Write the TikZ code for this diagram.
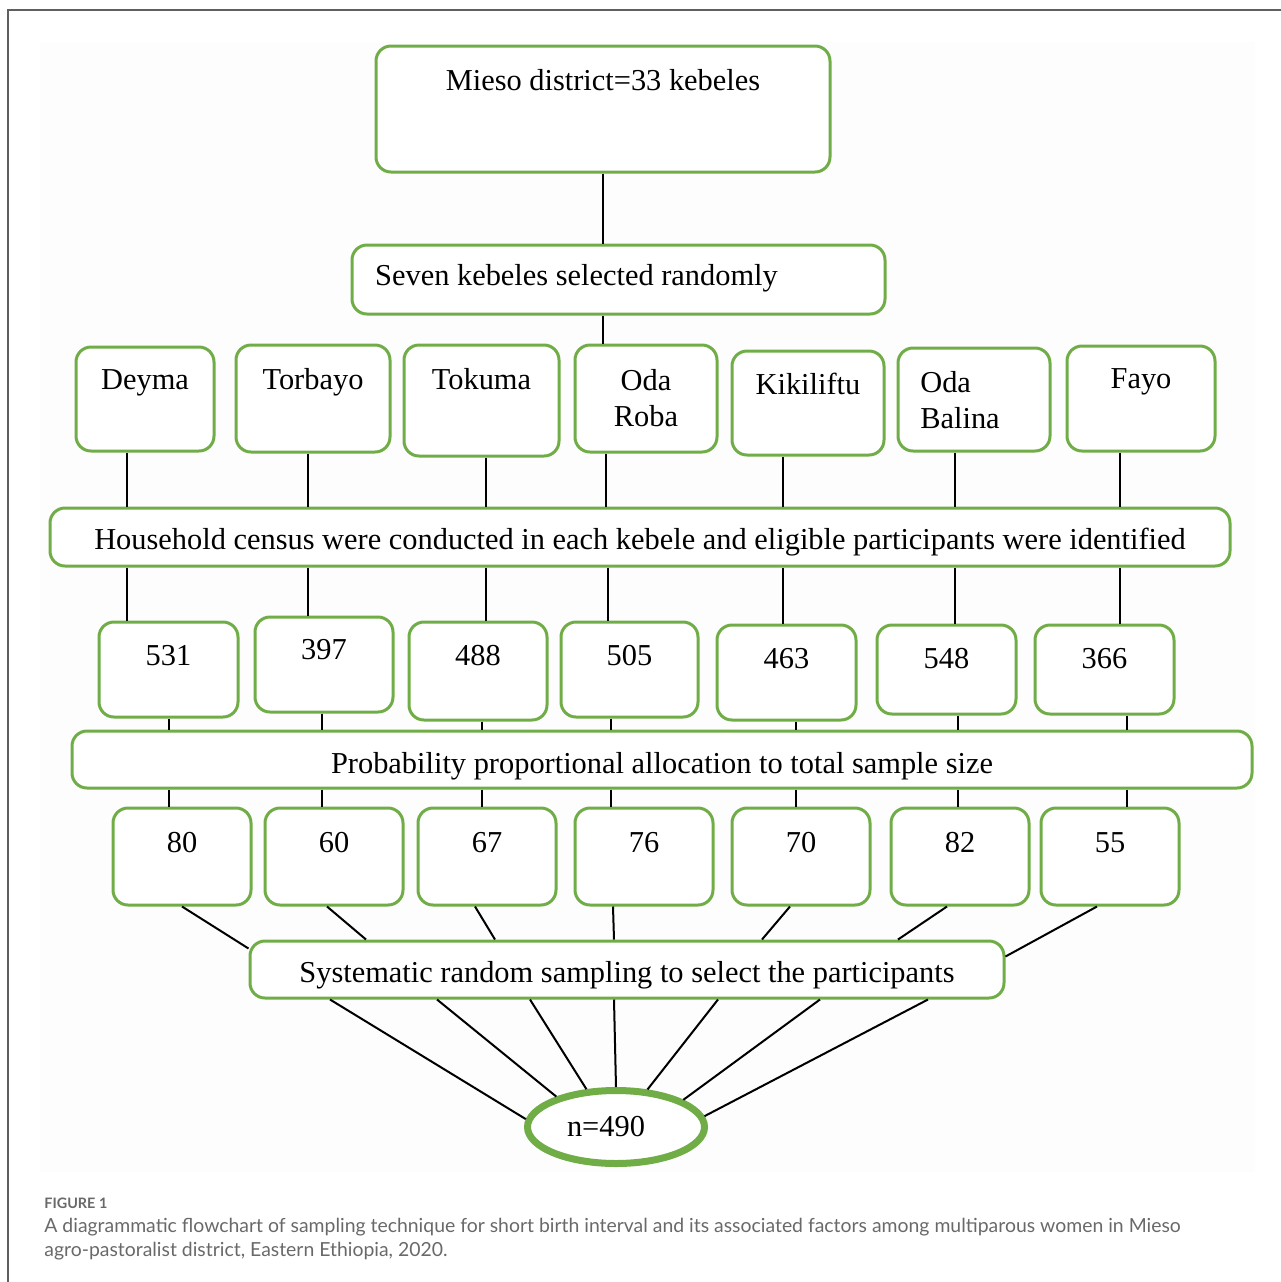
\documentclass[tikz,border=0pt]{standalone}
\usepackage{fontspec}
\setmainfont{Liberation Serif}
\newfontfamily\capfont{Lato}
\usepackage{xcolor}
\usepackage{tikz}
\usetikzlibrary{calc,shapes.geometric}
\definecolor{boxgreen}{RGB}{112,173,71}
\definecolor{framegray}{RGB}{95,95,95}
\definecolor{capgray}{RGB}{105,105,105}

\begin{document}
\begin{tikzpicture}[x=0.5pt,y=-0.5pt,
  box/.style={draw=boxgreen,line width=1.5pt,rounded corners=7.5pt,fill=white,inner sep=0pt},
  kbox/.style={box,minimum height=52pt},
  nbox/.style={box,minimum width=69.5pt,minimum height=47.5pt},
  sbox/.style={box,minimum width=69pt,minimum height=48.5pt},
  link/.style={line width=1pt,black},
  font=\fontsize{15.2}{18}\selectfont]
\useasboundingbox (0,0) rectangle (1281,1282);
\fill[black!0.6] (40,42) rectangle (1255,1172);
\draw[framegray,line width=0.8pt] (8,1282) -- (8,10) -- (1281,10);

\node[box,minimum width=227pt,minimum height=63pt,label={[yshift=14.5pt]center:Mieso district=33 kebeles}] (mieso) at (603,109) {};
\node[box,minimum width=266.5pt,minimum height=34.5pt,label={[xshift=-21pt,yshift=0.5pt]center:Seven kebeles selected randomly}] (seven) at (618.5,279.5) {};

\node[kbox,minimum width=69pt,label={[yshift=8pt]center:Deyma}] (deyma) at (145,399) {};
\node[kbox,minimum width=77pt,minimum height=53.5pt,label={[yshift=8.25pt]center:Torbayo}] (torbayo) at (313,398.5) {};
\node[kbox,minimum width=77.5pt,minimum height=55.5pt,label={[yshift=10.5pt]center:Tokuma}] (tokuma) at (481.5,400.5) {};
\node[kbox,minimum width=71pt,minimum height=53.5pt,label={[align=center,yshift=0pt]center:Oda\\Roba}] (odaroba) at (646,398.5) {};
\node[kbox,minimum width=76pt,label={[yshift=9.5pt]center:Kikiliftu}] (kikiliftu) at (808,403) {};
\node[kbox,minimum width=76pt,minimum height=51.5pt,label={[align=left,xshift=-7pt,yshift=-0.5pt]center:Oda\\Balina}] (odabalina) at (974,399.5) {};
\node[kbox,minimum width=74pt,minimum height=52.5pt,label={[yshift=8.5pt]center:Fayo}] (fayo) at (1141,398.5) {};

\node[box,minimum width=590pt,minimum height=29pt,label={[yshift=-2.5pt]center:Household census were conducted in each kebele and eligible participants were identified}] (house) at (640,537) {};

\node[nbox,label={[yshift=7pt]center:531}] (n531) at (168.5,669.5) {};
\node[nbox,minimum width=69pt,label={[yshift=7.5pt]center:397}] (n397) at (324,664.5) {};
\node[nbox,minimum width=69pt,minimum height=49pt,label={[yshift=7.75pt]center:488}] (n488) at (478,671) {};
\node[nbox,minimum width=68.5pt,label={[yshift=7pt]center:505}] (n505) at (629.5,669.5) {};
\node[nbox,label={[yshift=7pt]center:463}] (n463) at (786.5,672.5) {};
\node[nbox,minimum height=44.5pt,label={[yshift=5.5pt]center:548}] (n548) at (946.5,669.5) {};
\node[nbox,minimum height=44.5pt,label={[yshift=5.5pt]center:366}] (n366) at (1104.5,669.5) {};

\node[box,minimum width=590pt,minimum height=28.5pt,label={[yshift=-3.5pt]center:Probability proportional allocation to total sample size}] (prob) at (662,759.5) {};

\node[sbox,label={[yshift=7pt]center:80}] (s80) at (182,856.5) {};
\node[sbox,label={[yshift=7pt]center:60}] (s60) at (334,856.5) {};
\node[sbox,label={[yshift=7pt]center:67}] (s67) at (487,856.5) {};
\node[sbox,label={[yshift=7pt]center:76}] (s76) at (644,856.5) {};
\node[sbox,label={[yshift=7pt]center:70}] (s70) at (801,856.5) {};
\node[sbox,label={[yshift=7pt]center:82}] (s82) at (960,856.5) {};
\node[sbox,label={[yshift=7pt]center:55}] (s55) at (1110,856.5) {};

\node[box,minimum width=377pt,minimum height=28.5pt,label={[yshift=-3pt]center:Systematic random sampling to select the participants}] (sys) at (627,969.5) {};

\node[ellipse,draw=boxgreen,line width=3.5pt,fill=white,inner sep=0pt,minimum width=88.5pt,minimum height=36.5pt,label={[xshift=-5pt]center:n=490}] (n) at (616,1127) {};

\draw[link] (mieso.south) -- (mieso.south |- seven.north);
\draw[link] (603,0 |- seven.south) -- (603,0 |- odaroba.north);
\foreach \k/\x in {deyma/127,torbayo/308,tokuma/486,odaroba/606,kikiliftu/783,odabalina/955,fayo/1120}
  \draw[link] (\x,0 |- \k.south) -- (\x,0 |- house.north);
\foreach \k/\x in {n531/127,n397/308,n488/486,n505/608,n463/783,n548/955,n366/1120}
  \draw[link] (\x,0 |- house.south) -- (\x,0 |- \k.north);
\foreach \k/\s/\x in {n531/s80/169,n397/s60/322,n488/s67/482,n505/s76/611,n463/s70/796,n548/s82/958,n366/s55/1127}{
  \draw[link] (\x,0 |- \k.south) -- (\x,0 |- prob.north);
  \draw[link] (\x,0 |- prob.south) -- (\x,0 |- \s.north);
}
\draw[link] (s80.south) -- ($(sys.north west)+(0,9)$);
\foreach \s/\x/\e in {s60/327/366,s67/475/495,s76/613/614,s70/790/762,s82/947/898}
  \draw[link] (\x,0 |- \s.south) -- (\e,0 |- sys.north);
\draw[link] (1097,0 |- s55.south) -- ($(sys.north east)+(0,17)$);
\foreach \x/\a in {330/175,437/153,530/128,614/90,718/50,820/22,928/7}
  \draw[link] (\x,0 |- sys.south) -- (n.\a);

\node[anchor=base west,inner sep=0pt,text=capgray,font=\capfont\bfseries\fontsize{7.2}{8}\selectfont] (fig) at (44,1208) {FIGURE 1};
\node[anchor=north west,inner sep=0pt,align=left,text=capgray,font=\capfont\fontsize{9.7}{12}\selectfont] (cap) at (44,1218) {A diagrammatic flowchart of sampling technique for short birth interval and its associated factors among multiparous women in Mieso\\agro-pastoralist district, Eastern Ethiopia, 2020.};
\end{tikzpicture}
\end{document}
